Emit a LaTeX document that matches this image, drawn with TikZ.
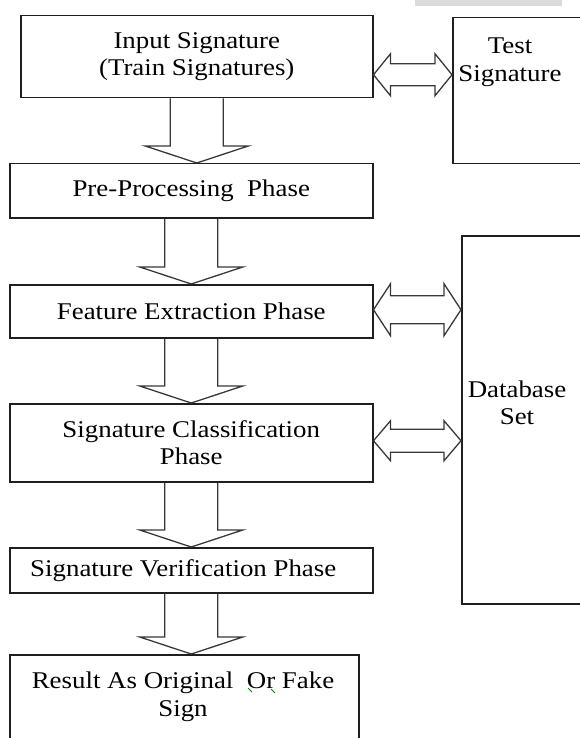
\documentclass[tikz,border=0pt]{standalone}
\usepackage{fontspec}
\setmainfont{Liberation Serif}[FakeStretch=1.12]
\usetikzlibrary{calc}
\newcommand\dnarrow[2]{%
  \draw[blockarrow] ($(#1.south)+(-26.5,0)$) -- ($(#1.south |- #2.north)+(-26.5,-17)$) -- ++(-25,0)
    -- (#1.south |- #2.north) -- ++(51.5,-17) -- ++(-25,0) -- ($(#1.south)+(26.5,0)$);}
\newcommand\dblarrow[5]{%
  \path ($(#1.east)+(0,#3)$) coordinate (dl) (#2.west |- dl) coordinate (dr);
  \draw[blockarrow] (dl) -- ++(17,-#4) -- ++(0,#4-#5) -- ($(dr)+(-17,-#5)$) -- ++(0,#5-#4)
    -- (dr) -- ++(-17,#4) -- ++(0,#5-#4) -- ($(dl)+(17,#5)$) -- ++(0,#4-#5) -- cycle;}
\begin{document}
\begin{tikzpicture}[x=1pt,y=-1pt,
  txt/.style={align=center,inner sep=0pt,font=\fontsize{24}{27.5}\selectfont},
  box/.style={txt,draw=black!88,line width=1.5pt,anchor=north west},
  blockarrow/.style={draw=black!78,line width=1.3pt,line join=miter}]
\useasboundingbox (0,0) rectangle (580,738);
\clip (0,0) rectangle (580,738);
\fill[gray!28] (415,0) rectangle (562,6);

\node[box,minimum width=352pt,minimum height=82pt] (input) at (20,15) {Input Signature\\(Train Signatures)};
\node[box,minimum width=160pt,minimum height=146pt] (test) at (452,17) {};
\node[txt] (testtxt) at (510,62) {Test\\Signature};
\node[box,minimum width=363pt,minimum height=54pt] (pre) at (9,163) {Pre-Processing\ \ Phase};
\node[box,minimum width=363pt,minimum height=53pt] (feat) at (9,284) {Feature Extraction Phase};
\node[box,minimum width=160pt,minimum height=368pt] (db) at (461,235) {};
\node[txt] (dbtxt) at (517,403) {Database\\Set};
\node[box,minimum width=363pt,minimum height=78pt] (cls) at (9,403) {Signature Classification\\Phase};
\node[box,minimum width=363pt,minimum height=45pt] (ver) at (9,547) {Signature Verification Phase\hspace*{16pt}};
\node[box,minimum width=349pt,minimum height=120pt] (res) at (9,654) {};
\node[txt] (restxt) at (183,697) {Result As Original\ \ Or Fake\\Sign};

\dnarrow{input}{pre}
\dnarrow{pre}{feat}
\dnarrow{feat}{cls}
\dnarrow{cls}{ver}
\dnarrow{ver}{res}

\dblarrow{input}{test}{18}{21}{11}
\dblarrow{feat}{db}{-1.5}{26}{14}
\dblarrow{cls}{db}{-2}{20}{11.5}

\draw[green!55!black,line width=0.8pt] (248,688) -- (252,692) (271,689) -- (275,693);
\end{tikzpicture}
\end{document}
